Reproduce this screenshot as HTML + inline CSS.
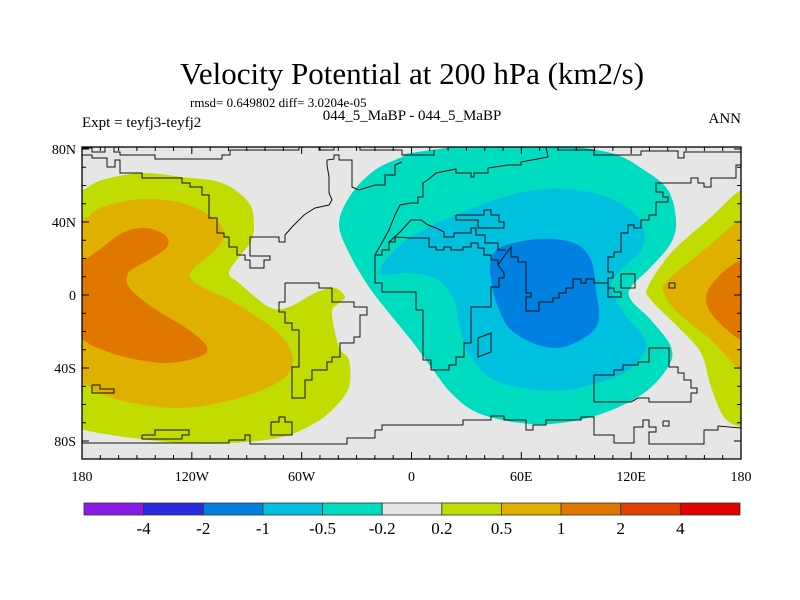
<!DOCTYPE html>
<html><head><meta charset="utf-8"><style>
body{margin:0;background:#fff;}
svg{display:block;font-family:"Liberation Serif",serif;}
</style></head><body>
<svg id="c" width="800" height="600" xmlns="http://www.w3.org/2000/svg">
<text x="412" y="84" font-size="31" text-anchor="middle">Velocity Potential at 200 hPa (km2/s)</text>
<text x="190" y="107" font-size="13">rmsd= 0.649802 diff= 3.0204e-05</text>
<text x="82" y="127" font-size="15">Expt = teyfj3-teyfj2</text>
<text x="412" y="120" font-size="15" text-anchor="middle">044_5_MaBP - 044_5_MaBP</text>
<text x="741" y="123" font-size="15" text-anchor="end">ANN</text>
<g id="map"></g>
<g id="cb"></g>
</svg>
<script>
const X0=82,X1=741,YT=147,YB=459;
function xs(lon){return X0+(lon+180)/360*(X1-X0);}
function ys(lat){return 295-lat*1.825;}
// digitized readings -> lon/lat
function gLon(g){return (g-X0)/(X1-X0)*360-180;}
function gLat(g){return (295-g)/1.825;}

const levels=[-4,-2,-1,-0.5,-0.2,0.2,0.5,1,2,4];
const colors=["#8a1ae6","#2a2ae0","#0080e0","#00c0e0","#00dcc0","#e6e6e6","#c0dc00","#e0b000","#e07800","#e04000","#e00000"];

const warmWest02=[[82,190],[102,180],[142,173],[182,177],[222,183],[249,203],[254,227],[250,243],[239,257],[229,273],[239,283],[269,307],[289,307],[315,293],[335,288],[345,297],[339,303],[332,313],[339,347],[349,360],[349,387],[335,407],[315,423],[282,437],[232,443],[182,443],[132,438],[99,433],[82,430],[60,430],[60,190]];
const warmWest05=[[82,220],[102,207],[142,199],[182,203],[212,217],[224,233],[215,250],[195,267],[190,277],[202,287],[235,303],[275,330],[292,353],[289,373],[269,387],[232,400],[182,408],[132,403],[99,393],[82,383],[60,383],[60,220]];
const warmWest1=[[82,260],[99,250],[122,233],[145,228],[165,235],[167,247],[149,260],[129,272],[129,287],[152,307],[189,330],[207,347],[199,357],[165,363],[125,357],[95,347],[82,340],[60,340],[60,260]];
const warmEast02=[[741,190],[711,217],[671,253],[648,287],[651,300],[678,327],[701,353],[711,387],[724,417],[741,427],[760,427],[760,190]];
const warmEast05=[[741,220],[704,250],[668,280],[664,293],[678,313],[711,340],[741,370],[760,370],[760,220]];
const warmEast1=[[741,260],[718,277],[706,297],[714,317],[741,340],[760,340],[760,260]];
const cool02=[[411,153],[478,145],[551,145],[611,153],[644,170],[668,190],[676,220],[671,243],[651,267],[631,287],[631,300],[651,320],[671,347],[668,367],[644,393],[604,413],[561,423],[521,423],[478,413],[451,393],[431,367],[411,340],[389,313],[369,287],[349,253],[339,223],[352,193],[375,170],[402,157]];
const cool05=[[411,237],[444,220],[494,200],[544,189],[594,193],[631,210],[644,230],[641,250],[621,270],[611,287],[624,313],[644,337],[644,353],[624,373],[578,388],[538,390],[494,380],[468,353],[459,323],[454,300],[438,280],[411,273],[382,275],[380,268],[392,253]];
const cool1=[[491,260],[501,247],[538,239],[574,243],[591,260],[596,290],[599,317],[591,333],[564,347],[538,345],[511,330],[498,307],[491,280]];
const regions=[[warmWest02,6],[warmWest05,7],[warmWest1,8],[warmEast02,6],[warmEast05,7],[warmEast1,8],[cool02,4],[cool05,3],[cool1,2]];
const regionNames=["warm-west-0.2","warm-west-0.5","warm-west-1","warm-east-0.2","warm-east-0.5","warm-east-1","cool-0.2","cool-0.5","cool-1"];

const coasts=[
[[82,148],[92,148],[92,152],[105,152],[105,147],[114,147],[114,152],[120,152],[120,155],[155,155],[155,159],[222,159],[222,155],[230,155],[230,150],[299,150],[299,147],[319,147],[319,150],[334,150],[334,146],[360,146],[360,150],[402,150],[402,155],[434,155],[434,150]],
[[82,155],[92,155],[92,158],[107,158],[107,167],[115,167],[115,160],[120,160],[120,173],[142,173],[142,178],[182,178],[182,183],[190,183],[190,187],[202,187],[202,195],[209,195],[209,218],[217,218],[217,233],[224,233],[224,237],[229,237],[229,247],[237,247],[237,255],[245,255],[245,260],[250,260],[250,268],[264,268],[264,260],[270,260],[270,256],[250,256],[250,237],[279,237],[279,242],[285,242],[285,235],[292,227],[299,220],[304,215],[315,208],[329,205],[332,200],[329,193],[329,177],[327,165],[327,160],[334,159],[334,155],[339,155],[339,160],[352,160],[352,187],[359,190],[375,185],[385,185],[385,175],[395,175],[395,165],[402,162]],
[[285,283],[319,283],[319,288],[332,288],[332,302],[354,302],[354,307],[367,307],[367,315],[360,315],[360,337],[354,337],[354,343],[340,343],[340,357],[332,357],[332,362],[327,362],[327,370],[312,370],[312,380],[305,380],[305,398],[292,398],[292,367],[299,367],[299,330],[292,330],[292,323],[285,323],[285,312],[279,312],[279,302],[285,302],[285,283]],
[[92,385],[100,385],[100,389],[114,389],[114,393],[92,393],[92,385]],
[[142,435],[155,435],[155,430],[189,430],[189,435],[182,435],[182,439],[142,439],[142,435]],
[[271,422],[279,422],[279,417],[285,417],[285,422],[292,422],[292,435],[271,435],[271,422]],
[[82,443],[229,443],[229,440],[245,440],[245,435],[250,435],[250,444],[347,444],[347,438],[375,438],[375,430],[382,430],[382,425],[463,425],[463,420],[491,420],[491,416],[504,416],[504,420],[526,420],[526,430],[533,430],[533,425],[546,425],[546,420],[581,420],[581,417],[594,417],[594,435],[614,435],[614,443],[634,443],[634,427],[643,427],[643,420],[649,420],[649,427],[656,427],[656,432],[649,432],[649,444],[704,444],[704,430],[718,430],[718,426],[741,428]],
[[375,255],[382,255],[382,250],[389,250],[389,242],[395,242],[395,237],[411,238],[429,238],[429,247],[436,247],[436,250],[444,250],[444,247],[451,247],[451,250],[463,250],[463,247],[471,247],[471,243],[478,243],[478,248],[484,248],[484,255],[491,255],[491,260],[498,260],[498,265],[504,273],[504,278],[499,278],[499,287],[491,287],[491,307],[471,307],[471,343],[464,343],[464,357],[456,357],[456,365],[449,365],[449,370],[431,370],[431,360],[423,360],[423,310],[416,310],[416,292],[382,292],[382,283],[375,283],[375,255]],
[[498,265],[505,255],[511,247],[511,257],[518,257],[518,262],[526,262],[526,293],[531,293],[531,297],[526,297],[526,311],[539,311],[539,302],[553,302],[553,298],[559,298],[559,293],[566,293],[566,288],[573,288],[573,279],[581,279],[581,283],[586,283],[586,279],[594,279],[594,283],[608,283],[608,297],[621,297],[621,292],[614,292],[614,288],[608,288],[608,278],[613,278],[613,272],[608,272],[608,257],[614,257],[614,252],[621,252],[621,233],[628,233],[628,225],[634,225],[634,228],[641,228],[641,220],[649,220],[649,215],[656,215],[656,202],[668,202],[668,197],[663,197],[663,192],[656,192],[656,183],[691,183],[691,178],[698,178],[698,183],[704,183],[704,187],[711,187],[711,178],[736,178],[736,165],[741,165]],
[[375,255],[389,230],[395,215],[400,205],[411,203],[418,203],[418,197],[423,197],[423,183],[429,179],[436,173],[456,169],[456,173],[471,173],[471,177],[474,177],[474,173],[488,173],[488,168],[508,165],[521,165],[521,162],[548,157],[546,147],[558,147],[558,150],[594,150],[594,155],[641,155],[641,151],[678,151],[678,158],[684,158],[684,152],[741,152]],
[[389,242],[400,232],[411,220],[421,220],[428,225],[436,228],[444,232],[444,237],[454,237],[454,233],[471,233],[471,228],[476,228],[476,235],[485,235],[485,243],[498,243],[498,250],[506,250]],
[[456,215],[484,215],[484,210],[491,210],[491,215],[499,215],[499,222],[504,222],[504,228],[478,228],[478,220],[456,220],[456,215]],
[[478,338],[491,333],[491,352],[478,357],[478,338]],
[[621,274],[635,274],[635,288],[621,288],[621,274]],
[[669,283],[675,283],[675,288],[669,288],[669,283]],
[[594,375],[614,375],[614,370],[623,370],[623,365],[638,365],[638,362],[649,362],[649,348],[669,348],[669,367],[678,367],[678,373],[684,373],[684,380],[691,380],[691,388],[697,388],[697,393],[691,393],[691,402],[649,402],[649,398],[638,398],[631,402],[594,402],[594,375]],
[[663,421],[669,421],[669,426],[663,426],[663,421]]
];

const NS="http://www.w3.org/2000/svg";
const map=document.getElementById('map');
function mk(tag,attrs,parent){const e=document.createElementNS(NS,tag);for(const k in attrs)e.setAttribute(k,attrs[k]);parent.appendChild(e);return e;}
function proj(arr){return arr.map(q=>[xs(gLon(q[0])),ys(gLat(q[1]))]);}
const clip=mk('clipPath',{id:'mc'},map);mk('rect',{x:X0,y:YT,width:X1-X0,height:YB-YT},clip);
const bg=mk('rect',{x:X0,y:YT,width:X1-X0,height:YB-YT,fill:'#e6e6e6'},map);


const g=mk('g',{'clip-path':'url(#mc)'},map);
regions.forEach((r,i)=>{
  const P=proj(r[0]);
  const n=P.length;let d="M"+P[0][0].toFixed(1)+","+P[0][1].toFixed(1);
  for(let k=0;k<n;k++){const p0=P[(k-1+n)%n],p1=P[k],p2=P[(k+1)%n],p3=P[(k+2)%n];
    d+=" C"+(p1[0]+(p2[0]-p0[0])/6).toFixed(1)+","+(p1[1]+(p2[1]-p0[1])/6).toFixed(1)+" "+(p2[0]-(p3[0]-p1[0])/6).toFixed(1)+","+(p2[1]-(p3[1]-p1[1])/6).toFixed(1)+" "+p2[0].toFixed(1)+","+p2[1].toFixed(1);}
  const e=mk('path',{d:d+"Z",fill:colors[r[1]]},g);
  
  
});
coasts.forEach((c)=>{
  const e=mk('polyline',{points:proj(c).map(p=>p[0].toFixed(1)+","+p[1].toFixed(1)).join(" "),fill:'none',stroke:'#111','stroke-width':1},g);
  
  
});
const fr=mk('rect',{x:X0,y:YT,width:X1-X0,height:YB-YT,fill:'none',stroke:'#000','stroke-width':1.3},map);


const lonLabels=["180","120W","60W","0","60E","120E","180"];
const latTicks=[80,40,0,-40,-80];
const latLabels=["80N","40N","0","40S","80S"];
for(let lon=-180;lon<=180;lon+=10){const x=xs(lon),L=lon%60===0?7:4;
  mk('line',{x1:x,x2:x,y1:YB,y2:YB-L,stroke:'#000'},map);mk('line',{x1:x,x2:x,y1:YT,y2:YT+L,stroke:'#000'},map);}
for(let lat=-80;lat<=80;lat+=10){const y=ys(lat),L=lat%40===0?7:4;
  mk('line',{x1:X0,x2:X0+L,y1:y,y2:y,stroke:'#000'},map);mk('line',{x1:X1,x2:X1-L,y1:y,y2:y,stroke:'#000'},map);}
lonLabels.forEach((t,i)=>{const e=mk('text',{x:xs(-180+i*60),y:481,'font-size':14,'text-anchor':'middle'},map);e.textContent=t;
  
  });
latLabels.forEach((t,i)=>{const e=mk('text',{x:76,y:ys(latTicks[i])+5,'font-size':14,'text-anchor':'end'},map);e.textContent=t;
  
  });
const cb=document.getElementById('cb');const cx0=84,cx1=740,cw=(cx1-cx0)/colors.length;
colors.forEach((c,i)=>{const e=mk('rect',{x:cx0+i*cw,y:503,width:cw,height:12,fill:c,stroke:'#333','stroke-width':0.8},cb);
  
  });
levels.forEach((v,i)=>{const e=mk('text',{x:cx0+(i+1)*cw,y:534,'font-size':17,'text-anchor':'middle'},cb);e.textContent=String(v);
  
  });
</script>
</body></html>
